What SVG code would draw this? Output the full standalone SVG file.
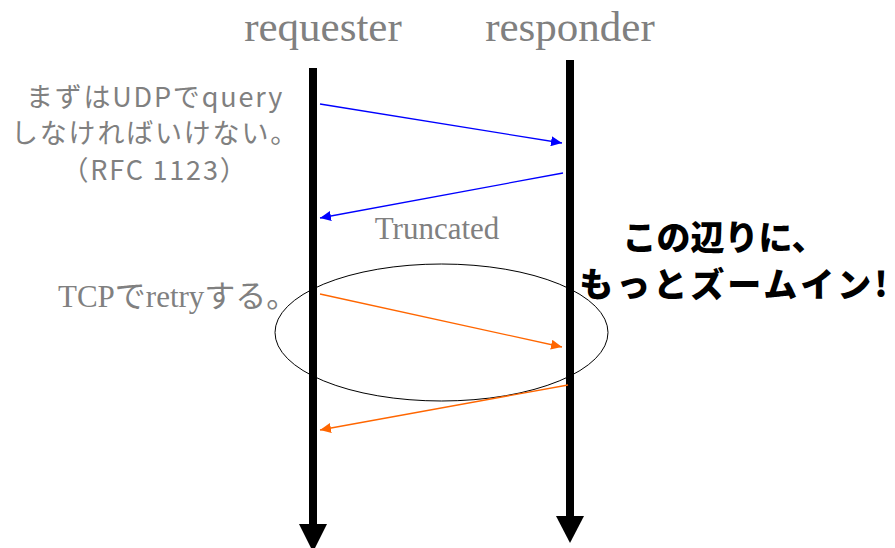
<svg xmlns="http://www.w3.org/2000/svg" width="895" height="548" viewBox="0 0 895 548">
<style>
.actor{font-family:"Liberation Serif","Noto Sans CJK JP",serif;font-size:43px;fill:#808080}
.note{font-family:"Noto Sans CJK JP",sans-serif;font-size:27px;letter-spacing:1.8px;fill:#808080}
.serif{font-family:"Liberation Serif","Noto Sans CJK JP",serif;font-size:31px;fill:#808080}
.big{font-family:"Noto Sans CJK JP",sans-serif;font-size:34px;font-weight:900;fill:#000}
.life{stroke:#000;stroke-width:8}
.blue{stroke:#0000ff;stroke-width:1.3;fill:none;marker-end:url(#ab)}
.orange{stroke:#ff6600;stroke-width:1.3;fill:none;marker-end:url(#ao)}
</style>
<defs>
<marker id="ab" markerUnits="userSpaceOnUse" markerWidth="12" markerHeight="10" refX="11" refY="5" orient="auto"><path d="M0,0 L11,5 L0,10 z" fill="#0000ff"/></marker>
<marker id="ao" markerUnits="userSpaceOnUse" markerWidth="12" markerHeight="10" refX="11" refY="5" orient="auto"><path d="M0,0 L11,5 L0,10 z" fill="#ff6600"/></marker>
</defs>
<rect width="895" height="548" fill="#fff"/>
<g id="requester">
<text class="actor" x="323" y="41" text-anchor="middle">requester</text>
<line class="life" x1="313" y1="68" x2="313" y2="526"/>
<polygon points="299,524 327,524 313,552" fill="#000"/>
</g>
<g id="responder">
<text class="actor" x="570" y="41" text-anchor="middle">responder</text>
<line class="life" x1="570" y1="60" x2="570" y2="518"/>
<polygon points="556,516 584,516 570,543" fill="#000"/>
</g>
<g id="note-udp">
<text class="note" x="155" y="107" text-anchor="middle">まずはUDPでquery</text>
<text class="note" x="155" y="143" text-anchor="middle">しなければいけない。</text>
<text class="note" x="155" y="180" text-anchor="middle">（RFC 1123）</text>
</g>
<g id="label-truncated">
<text class="serif" x="437" y="239" text-anchor="middle">Truncated</text>
</g>
<g id="note-tcp">
<text class="serif" x="58" y="307">TCPでretryする。</text>
</g>
<g id="zoom-area">
<ellipse cx="441.5" cy="332.5" rx="166.5" ry="68.5" fill="none" stroke="#000" stroke-width="1"/>
</g>
<g id="callout">
<text class="big" x="724" y="250" text-anchor="middle">この辺りに、</text>
<text class="big" x="735" y="297" text-anchor="middle" letter-spacing="3">もっとズームイン!</text>
</g>
<g id="connectors">
<line class="blue" x1="320" y1="104" x2="562" y2="143"/>
<line class="blue" x1="563" y1="173" x2="320" y2="218"/>
<line class="orange" x1="320" y1="294" x2="562" y2="347"/>
<line class="orange" x1="568" y1="385" x2="320" y2="430"/>
</g>
</svg>
